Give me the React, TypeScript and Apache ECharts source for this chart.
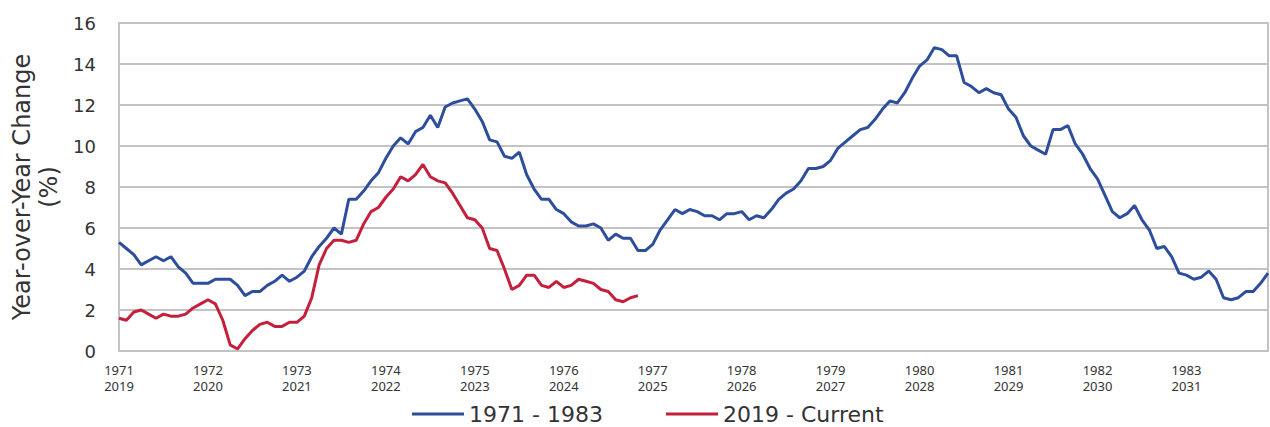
import React, { useEffect, useRef } from "react";
import * as echarts from "echarts";

const months = ["Jan", "Feb", "Mar", "Apr", "May", "Jun", "Jul", "Aug", "Sep", "Oct", "Nov", "Dec"];
const yearsA = [1971, 1972, 1973, 1974, 1975, 1976, 1977, 1978, 1979, 1980, 1981, 1982, 1983];
const yearsB = [2019, 2020, 2021, 2022, 2023, 2024, 2025, 2026, 2027, 2028, 2029, 2030, 2031];

const series1971 = [
  5.3, 5.0, 4.7, 4.2, 4.4, 4.6, 4.4, 4.6, 4.1, 3.8, 3.3, 3.3,
  3.3, 3.5, 3.5, 3.5, 3.2, 2.7, 2.9, 2.9, 3.2, 3.4, 3.7, 3.4,
  3.6, 3.9, 4.6, 5.1, 5.5, 6.0, 5.7, 7.4, 7.4, 7.8, 8.3, 8.7,
  9.4, 10.0, 10.4, 10.1, 10.7, 10.9, 11.5, 10.9, 11.9, 12.1, 12.2, 12.3,
  11.8, 11.2, 10.3, 10.2, 9.5, 9.4, 9.7, 8.6, 7.9, 7.4, 7.4, 6.9,
  6.7, 6.3, 6.1, 6.1, 6.2, 6.0, 5.4, 5.7, 5.5, 5.5, 4.9, 4.9,
  5.2, 5.9, 6.4, 6.9, 6.7, 6.9, 6.8, 6.6, 6.6, 6.4, 6.7, 6.7,
  6.8, 6.4, 6.6, 6.5, 6.9, 7.4, 7.7, 7.9, 8.3, 8.9, 8.9, 9.0,
  9.3, 9.9, 10.2, 10.5, 10.8, 10.9, 11.3, 11.8, 12.2, 12.1, 12.6, 13.3,
  13.9, 14.2, 14.8, 14.7, 14.4, 14.4, 13.1, 12.9, 12.6, 12.8, 12.6, 12.5,
  11.8, 11.4, 10.5, 10.0, 9.8, 9.6, 10.8, 10.8, 11.0, 10.1, 9.6, 8.9,
  8.4, 7.6, 6.8, 6.5, 6.7, 7.1, 6.4, 5.9, 5.0, 5.1, 4.6, 3.8,
  3.7, 3.5, 3.6, 3.9, 3.5, 2.6, 2.5, 2.6, 2.9, 2.9, 3.3, 3.8,
];

const series2019 = [
  1.6, 1.5, 1.9, 2.0, 1.8, 1.6, 1.8, 1.7, 1.7, 1.8, 2.1, 2.3,
  2.5, 2.3, 1.5, 0.3, 0.1, 0.6, 1.0, 1.3, 1.4, 1.2, 1.2, 1.4,
  1.4, 1.7, 2.6, 4.2, 5.0, 5.4, 5.4, 5.3, 5.4, 6.2, 6.8, 7.0,
  7.5, 7.9, 8.5, 8.3, 8.6, 9.1, 8.5, 8.3, 8.2, 7.7, 7.1, 6.5,
  6.4, 6.0, 5.0, 4.9, 4.0, 3.0, 3.2, 3.7, 3.7, 3.2, 3.1, 3.4,
  3.1, 3.2, 3.5, 3.4, 3.3, 3.0, 2.9, 2.5, 2.4, 2.6, 2.7,
];

const seriesNames = ["1971 - 1983", "2019 - Current"];
const yTitle = "Year-over-Year Change\n(%)";

const categories: string[] = [];
yearsA.forEach((ya, i) => {
  months.forEach((m) => categories.push(`${m} ${ya}|${yearsB[i]}`));
});

const FONT = "DejaVu Sans";
const FONT2 = "Noto Sans";
const TEXT = "#333333";
const GRID = "#c3c3c3";

export default function App() {
  const ref = useRef<HTMLDivElement>(null);
  useEffect(() => {
    if (!ref.current) return;
    const chart = echarts.init(ref.current, undefined, { renderer: "svg" });
    const legendBase = {
      top: 397,
      padding: 5,
      icon: "rect",
      itemWidth: 52,
      itemHeight: 3,
      itemGap: 4,
      textStyle: { fontSize: 22, lineHeight: 24, color: TEXT, fontFamily: FONT },
    };
    chart.setOption({
      animation: false,
      textStyle: { fontFamily: FONT },
      grid: {
        left: 119,
        right: 2,
        top: 23,
        bottom: 76,
        show: true,
        borderColor: GRID,
        borderWidth: 2,
        containLabel: false,
        outerBoundsMode: "none",
      },
      legend: [
        { ...legendBase, data: [seriesNames[0]], left: 407 },
        { ...legendBase, data: [seriesNames[1]], left: 661 },
      ],
      xAxis: {
        type: "category",
        data: categories,
        boundaryGap: false,
        axisLine: { lineStyle: { color: GRID, width: 2 } },
        axisTick: { show: false },
        axisLabel: {
          interval: 11,
          color: TEXT,
          fontSize: 13,
          lineHeight: 16,
          margin: 11,
          fontFamily: FONT2,
          formatter: (v: string) => {
            const parts = v.split(" ")[1].split("|");
            return parts[0] + "\n" + parts[1];
          },
        },
        splitLine: { show: false },
      },
      yAxis: {
        type: "value",
        min: 0,
        max: 16,
        interval: 2,
        name: yTitle,
        nameLocation: "middle",
        nameGap: 55,
        nameTextStyle: { fontSize: 24, lineHeight: 27, color: TEXT, fontFamily: FONT },
        axisLine: { show: true, lineStyle: { color: GRID, width: 2 } },
        axisTick: { show: false },
        axisLabel: { color: TEXT, fontSize: 18, margin: 23, fontFamily: FONT },
        splitLine: { lineStyle: { color: GRID, width: 2 } },
      },
      series: [
        {
          name: seriesNames[0],
          type: "line",
          data: series1971,
          symbol: "none",
          lineStyle: { color: "#2d4e9c", width: 3 },
          itemStyle: { color: "#2d4e9c" },
          z: 3,
        },
        {
          name: seriesNames[1],
          type: "line",
          data: series2019,
          symbol: "none",
          lineStyle: { color: "#c4203b", width: 3 },
          itemStyle: { color: "#c4203b" },
          z: 4,
        },
      ],
    });
    return () => chart.dispose();
  }, []);
  return <div ref={ref} style={{ width: 1270, height: 427, position: "absolute", left: 0, top: 0 }} />;
}
